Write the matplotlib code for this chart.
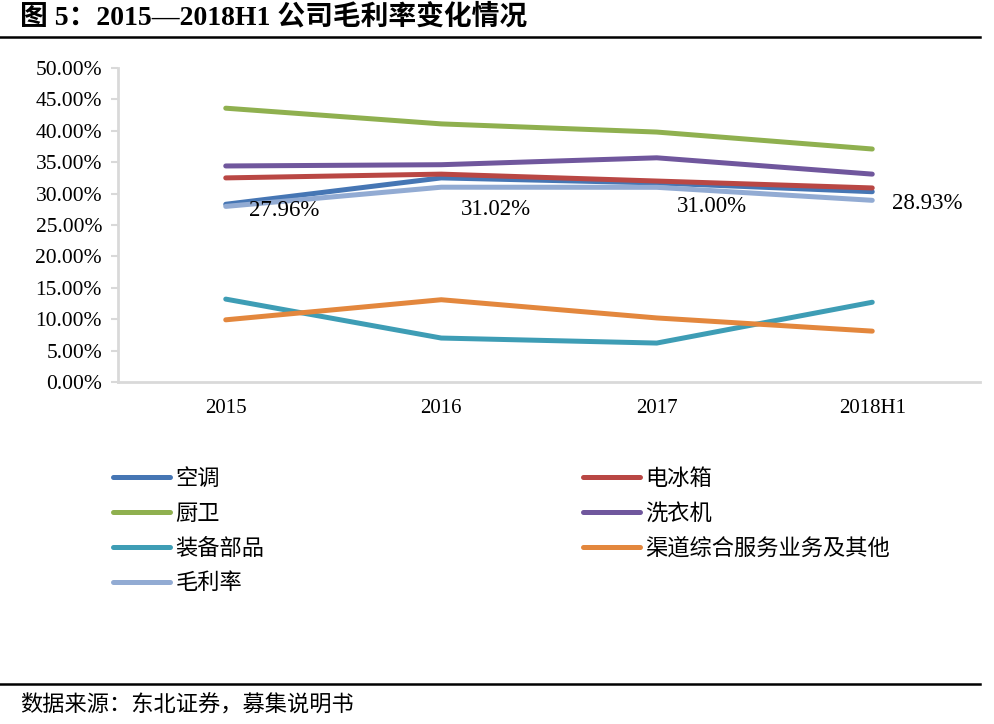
import matplotlib
matplotlib.use("Agg")
import matplotlib.pyplot as plt
from matplotlib.lines import Line2D
from matplotlib.ticker import FuncFormatter, MultipleLocator

# ---------------- data ----------------
categories = ["2015", "2016", "2017", "2018H1"]
ac = [28.3, 32.5, 31.7, 30.3]            # 空调
fridge = [32.5, 33.1, 32.0, 30.9]        # 电冰箱
kitchen = [43.6, 41.1, 39.8, 37.1]       # 厨卫
washer = [34.4, 34.6, 35.7, 33.1]        # 洗衣机
parts = [13.2, 7.0, 6.2, 12.7]           # 装备部品
channel = [9.9, 13.1, 10.2, 8.1]         # 渠道综合服务业务及其他
gross = [27.96, 31.02, 31.00, 28.93]     # 毛利率
gross_labels = ["27.96%", "31.02%", "31.00%", "28.93%"]

series_names = ["空调", "电冰箱", "厨卫", "洗衣机", "装备部品", "渠道综合服务业务及其他", "毛利率"]
series_values = [ac, fridge, kitchen, washer, parts, channel, gross]
series_colors = ["#4676B4", "#B94744", "#8FB04F", "#70579D", "#3E9DB5", "#E3873D", "#92ABD3"]

# label offsets in pixels (dx, dy) - styling only
label_offsets = [(58, -4), (55, -22), (55, -19), (55, -3)]

CJK = ["Noto Sans CJK SC", "DejaVu Sans"]
SERIF = ["Liberation Serif", "Noto Sans CJK SC"]

fig = plt.figure(figsize=(9.95, 7.24), dpi=100)
ax = fig.add_axes([118 / 995, 1 - 382 / 724, (980 - 118) / 995, (382 - 68) / 724])

x = list(range(len(categories)))
lines = {}
for name, vals, col in zip(series_names, series_values, series_colors):
    ln, = ax.plot(x, [v / 100 for v in vals], color=col, lw=3.6,
                  solid_capstyle="round", solid_joinstyle="round", label=name)
    lines[name] = ln

px2pt = 72 / 100
for xi, v, lab, (dx, dy) in zip(x, gross, gross_labels, label_offsets):
    ax.annotate(lab, (xi, v / 100), xytext=(dx * px2pt, dy * px2pt),
                textcoords="offset points", ha="center", va="center",
                fontsize=16.5, family=SERIF, color="black")

ax.set_xlim(-0.5, 3.5)
ax.set_ylim(0, 0.5)
ax.yaxis.set_major_locator(MultipleLocator(0.05))
ax.yaxis.set_major_formatter(FuncFormatter(lambda v, p: f"{v * 100:.2f}%"))
ax.set_xticks(x)
ax.set_xticklabels(categories)
for lab in ax.get_yticklabels():
    lab.set_fontfamily(SERIF)
    lab.set_fontsize(15.5)
for lab in ax.get_xticklabels():
    lab.set_fontfamily(SERIF)
    lab.set_fontsize(15)
ax.tick_params(axis="x", length=0, pad=12)
ax.tick_params(axis="y", length=5, width=1.5, color="#D9D9D9", pad=6.5, direction="out")
for s in ["top", "right"]:
    ax.spines[s].set_visible(False)
for s in ["left", "bottom"]:
    ax.spines[s].set_color("#D9D9D9")
    ax.spines[s].set_linewidth(2)

# legends (two columns, row-major order)
leg_font = {"family": CJK, "size": 16}
col1 = ["空调", "厨卫", "装备部品", "毛利率"]
col2 = ["电冰箱", "洗衣机", "渠道综合服务业务及其他"]
common = dict(loc="upper left", frameon=False, handlelength=2.57, handletextpad=0.23,
              labelspacing=0.53, prop=leg_font, borderaxespad=0, borderpad=0)
l1 = fig.legend([lines[n] for n in col1], col1, bbox_to_anchor=(113 / 995, 1 - 467 / 724), **common)
l2 = fig.legend([lines[n] for n in col2], col2, bbox_to_anchor=(583 / 995, 1 - 467 / 724), **common)

# title and rules
fig.text(20 / 995, 1 - 17 / 724, "图 5：2015—2018H1 公司毛利率变化情况", fontsize=20,
         fontweight="bold", family=SERIF, ha="left", va="center")
fig.add_artist(Line2D([0, 980 / 995], [1 - 37 / 724] * 2, color="black", lw=1.8))
fig.add_artist(Line2D([0, 980 / 995], [1 - 684 / 724] * 2, color="black", lw=1.8))
fig.text(20 / 995, 1 - 705 / 724, "数据来源：东北证券，募集说明书", fontsize=16,
         family=CJK, ha="left", va="center")

fig.savefig("out.png", dpi=100)
